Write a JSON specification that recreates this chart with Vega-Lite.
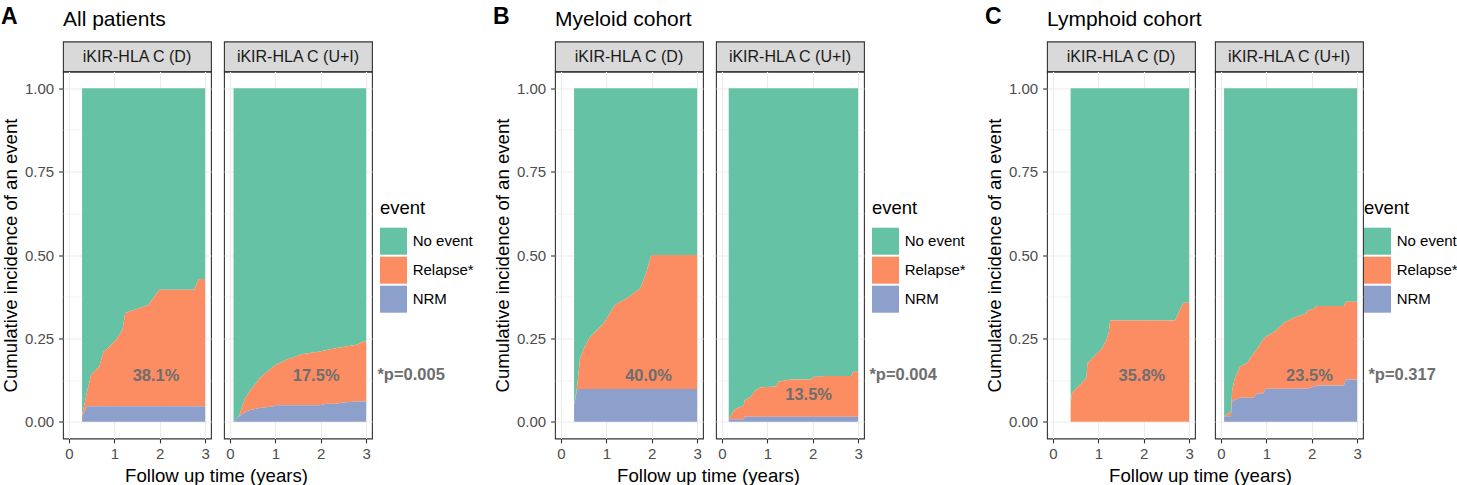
{
  "$schema": "https://vega.github.io/schema/vega-lite/v6.json",
  "padding": {"left": 0, "top": 4.5, "right": 0, "bottom": 0},
  "background": "white",
  "spacing": 18,
  "resolve": {"scale": {"color": "independent"}, "legend": {"color": "independent"}},
  "config": {
    "font": "Liberation Sans",
    "axis": {"domain": false, "labelFontSize": 15, "labelColor": "#4D4D4D", "tickColor": "#333333", "tickSize": 4.4, "tickWidth": 1.1, "gridColor": "#EBEBEB", "titleFontSize": 18.6, "titleFontWeight": "normal", "titleColor": "#000000"},
    "axisX": {"labelPadding": 3.5, "titlePadding": 5},
    "axisY": {"labelPadding": 5, "titlePadding": 4},
    "legend": {"orient": "none", "legendX": 317, "legendY": 157.7, "padding": 0, "titleFontSize": 18.5, "titleFontWeight": "normal", "titleColor": "#000000", "titlePadding": 10, "labelFontSize": 15, "labelColor": "#000000", "labelOffset": 5.7, "symbolType": "square", "symbolSize": 729, "symbolStrokeWidth": 0, "symbolOpacity": 1, "rowPadding": 2},
    "title": {"color": "#000000"}
  },
  "datasets": {
    "bands": [
      {"p":"A","g":"D","t":0.29,"e":"No event","lo":0.02,"hi":1},{"p":"A","g":"D","t":0.29,"e":"Relapse*","lo":0.016,"hi":0.02},{"p":"A","g":"D","t":0.29,"e":"NRM","lo":0,"hi":0.016},
      {"p":"A","g":"D","t":0.40,"e":"No event","lo":0.09,"hi":1},{"p":"A","g":"D","t":0.40,"e":"Relapse*","lo":0.047,"hi":0.09},{"p":"A","g":"D","t":0.40,"e":"NRM","lo":0,"hi":0.047},
      {"p":"A","g":"D","t":0.49,"e":"No event","lo":0.141,"hi":1},{"p":"A","g":"D","t":0.49,"e":"Relapse*","lo":0.047,"hi":0.141},{"p":"A","g":"D","t":0.49,"e":"NRM","lo":0,"hi":0.047},
      {"p":"A","g":"D","t":0.56,"e":"No event","lo":0.151,"hi":1},{"p":"A","g":"D","t":0.56,"e":"Relapse*","lo":0.047,"hi":0.151},{"p":"A","g":"D","t":0.56,"e":"NRM","lo":0,"hi":0.047},
      {"p":"A","g":"D","t":0.67,"e":"No event","lo":0.166,"hi":1},{"p":"A","g":"D","t":0.67,"e":"Relapse*","lo":0.047,"hi":0.166},{"p":"A","g":"D","t":0.67,"e":"NRM","lo":0,"hi":0.047},
      {"p":"A","g":"D","t":0.76,"e":"No event","lo":0.21,"hi":1},{"p":"A","g":"D","t":0.76,"e":"Relapse*","lo":0.047,"hi":0.21},{"p":"A","g":"D","t":0.76,"e":"NRM","lo":0,"hi":0.047},
      {"p":"A","g":"D","t":0.85,"e":"No event","lo":0.22,"hi":1},{"p":"A","g":"D","t":0.85,"e":"Relapse*","lo":0.047,"hi":0.22},{"p":"A","g":"D","t":0.85,"e":"NRM","lo":0,"hi":0.047},
      {"p":"A","g":"D","t":1.04,"e":"No event","lo":0.246,"hi":1},{"p":"A","g":"D","t":1.04,"e":"Relapse*","lo":0.047,"hi":0.246},{"p":"A","g":"D","t":1.04,"e":"NRM","lo":0,"hi":0.047},
      {"p":"A","g":"D","t":1.18,"e":"No event","lo":0.276,"hi":1},{"p":"A","g":"D","t":1.18,"e":"Relapse*","lo":0.047,"hi":0.276},{"p":"A","g":"D","t":1.18,"e":"NRM","lo":0,"hi":0.047},
      {"p":"A","g":"D","t":1.24,"e":"No event","lo":0.326,"hi":1},{"p":"A","g":"D","t":1.24,"e":"Relapse*","lo":0.047,"hi":0.326},{"p":"A","g":"D","t":1.24,"e":"NRM","lo":0,"hi":0.047},
      {"p":"A","g":"D","t":1.44,"e":"No event","lo":0.336,"hi":1},{"p":"A","g":"D","t":1.44,"e":"Relapse*","lo":0.047,"hi":0.336},{"p":"A","g":"D","t":1.44,"e":"NRM","lo":0,"hi":0.047},
      {"p":"A","g":"D","t":1.75,"e":"No event","lo":0.35,"hi":1},{"p":"A","g":"D","t":1.75,"e":"Relapse*","lo":0.047,"hi":0.35},{"p":"A","g":"D","t":1.75,"e":"NRM","lo":0,"hi":0.047},
      {"p":"A","g":"D","t":1.99,"e":"No event","lo":0.396,"hi":1},{"p":"A","g":"D","t":1.99,"e":"Relapse*","lo":0.047,"hi":0.396},{"p":"A","g":"D","t":1.99,"e":"NRM","lo":0,"hi":0.047},
      {"p":"A","g":"D","t":2.76,"e":"No event","lo":0.396,"hi":1},{"p":"A","g":"D","t":2.76,"e":"Relapse*","lo":0.047,"hi":0.396},{"p":"A","g":"D","t":2.76,"e":"NRM","lo":0,"hi":0.047},
      {"p":"A","g":"D","t":2.86,"e":"No event","lo":0.428,"hi":1},{"p":"A","g":"D","t":2.86,"e":"Relapse*","lo":0.047,"hi":0.428},{"p":"A","g":"D","t":2.86,"e":"NRM","lo":0,"hi":0.047},
      {"p":"A","g":"D","t":3.0,"e":"No event","lo":0.428,"hi":1},{"p":"A","g":"D","t":3.0,"e":"Relapse*","lo":0.047,"hi":0.428},{"p":"A","g":"D","t":3.0,"e":"NRM","lo":0,"hi":0.047},

      {"p":"A","g":"UI","t":0.08,"e":"No event","lo":0,"hi":1},{"p":"A","g":"UI","t":0.08,"e":"Relapse*","lo":0,"hi":0},{"p":"A","g":"UI","t":0.08,"e":"NRM","lo":0,"hi":0},
      {"p":"A","g":"UI","t":0.20,"e":"No event","lo":0.016,"hi":1},{"p":"A","g":"UI","t":0.20,"e":"Relapse*","lo":0.015,"hi":0.016},{"p":"A","g":"UI","t":0.20,"e":"NRM","lo":0,"hi":0.015},
      {"p":"A","g":"UI","t":0.32,"e":"No event","lo":0.066,"hi":1},{"p":"A","g":"UI","t":0.32,"e":"Relapse*","lo":0.028,"hi":0.066},{"p":"A","g":"UI","t":0.32,"e":"NRM","lo":0,"hi":0.028},
      {"p":"A","g":"UI","t":0.43,"e":"No event","lo":0.091,"hi":1},{"p":"A","g":"UI","t":0.43,"e":"Relapse*","lo":0.035,"hi":0.091},{"p":"A","g":"UI","t":0.43,"e":"NRM","lo":0,"hi":0.035},
      {"p":"A","g":"UI","t":0.69,"e":"No event","lo":0.136,"hi":1},{"p":"A","g":"UI","t":0.69,"e":"Relapse*","lo":0.042,"hi":0.136},{"p":"A","g":"UI","t":0.69,"e":"NRM","lo":0,"hi":0.042},
      {"p":"A","g":"UI","t":0.95,"e":"No event","lo":0.165,"hi":1},{"p":"A","g":"UI","t":0.95,"e":"Relapse*","lo":0.046,"hi":0.165},{"p":"A","g":"UI","t":0.95,"e":"NRM","lo":0,"hi":0.046},
      {"p":"A","g":"UI","t":1.0,"e":"No event","lo":0.17,"hi":1},{"p":"A","g":"UI","t":1.0,"e":"Relapse*","lo":0.05,"hi":0.17},{"p":"A","g":"UI","t":1.0,"e":"NRM","lo":0,"hi":0.05},
      {"p":"A","g":"UI","t":1.24,"e":"No event","lo":0.186,"hi":1},{"p":"A","g":"UI","t":1.24,"e":"Relapse*","lo":0.05,"hi":0.186},{"p":"A","g":"UI","t":1.24,"e":"NRM","lo":0,"hi":0.05},
      {"p":"A","g":"UI","t":1.61,"e":"No event","lo":0.203,"hi":1},{"p":"A","g":"UI","t":1.61,"e":"Relapse*","lo":0.05,"hi":0.203},{"p":"A","g":"UI","t":1.61,"e":"NRM","lo":0,"hi":0.05},
      {"p":"A","g":"UI","t":1.98,"e":"No event","lo":0.211,"hi":1},{"p":"A","g":"UI","t":1.98,"e":"Relapse*","lo":0.05,"hi":0.211},{"p":"A","g":"UI","t":1.98,"e":"NRM","lo":0,"hi":0.05},
      {"p":"A","g":"UI","t":2.13,"e":"No event","lo":0.215,"hi":1},{"p":"A","g":"UI","t":2.13,"e":"Relapse*","lo":0.054,"hi":0.215},{"p":"A","g":"UI","t":2.13,"e":"NRM","lo":0,"hi":0.054},
      {"p":"A","g":"UI","t":2.35,"e":"No event","lo":0.221,"hi":1},{"p":"A","g":"UI","t":2.35,"e":"Relapse*","lo":0.054,"hi":0.221},{"p":"A","g":"UI","t":2.35,"e":"NRM","lo":0,"hi":0.054},
      {"p":"A","g":"UI","t":2.49,"e":"No event","lo":0.224,"hi":1},{"p":"A","g":"UI","t":2.49,"e":"Relapse*","lo":0.058,"hi":0.224},{"p":"A","g":"UI","t":2.49,"e":"NRM","lo":0,"hi":0.058},
      {"p":"A","g":"UI","t":2.79,"e":"No event","lo":0.231,"hi":1},{"p":"A","g":"UI","t":2.79,"e":"Relapse*","lo":0.061,"hi":0.231},{"p":"A","g":"UI","t":2.79,"e":"NRM","lo":0,"hi":0.061},
      {"p":"A","g":"UI","t":2.93,"e":"No event","lo":0.24,"hi":1},{"p":"A","g":"UI","t":2.93,"e":"Relapse*","lo":0.061,"hi":0.24},{"p":"A","g":"UI","t":2.93,"e":"NRM","lo":0,"hi":0.061},
      {"p":"A","g":"UI","t":3.0,"e":"No event","lo":0.24,"hi":1},{"p":"A","g":"UI","t":3.0,"e":"Relapse*","lo":0.061,"hi":0.24},{"p":"A","g":"UI","t":3.0,"e":"NRM","lo":0,"hi":0.061},

      {"p":"B","g":"D","t":0.29,"e":"No event","lo":0.05,"hi":1},{"p":"B","g":"D","t":0.29,"e":"Relapse*","lo":0.05,"hi":0.05},{"p":"B","g":"D","t":0.29,"e":"NRM","lo":0,"hi":0.05},
      {"p":"B","g":"D","t":0.36,"e":"No event","lo":0.108,"hi":1},{"p":"B","g":"D","t":0.36,"e":"Relapse*","lo":0.098,"hi":0.108},{"p":"B","g":"D","t":0.36,"e":"NRM","lo":0,"hi":0.098},
      {"p":"B","g":"D","t":0.42,"e":"No event","lo":0.188,"hi":1},{"p":"B","g":"D","t":0.42,"e":"Relapse*","lo":0.098,"hi":0.188},{"p":"B","g":"D","t":0.42,"e":"NRM","lo":0,"hi":0.098},
      {"p":"B","g":"D","t":0.50,"e":"No event","lo":0.218,"hi":1},{"p":"B","g":"D","t":0.50,"e":"Relapse*","lo":0.098,"hi":0.218},{"p":"B","g":"D","t":0.50,"e":"NRM","lo":0,"hi":0.098},
      {"p":"B","g":"D","t":0.63,"e":"No event","lo":0.252,"hi":1},{"p":"B","g":"D","t":0.63,"e":"Relapse*","lo":0.098,"hi":0.252},{"p":"B","g":"D","t":0.63,"e":"NRM","lo":0,"hi":0.098},
      {"p":"B","g":"D","t":0.95,"e":"No event","lo":0.297,"hi":1},{"p":"B","g":"D","t":0.95,"e":"Relapse*","lo":0.098,"hi":0.297},{"p":"B","g":"D","t":0.95,"e":"NRM","lo":0,"hi":0.098},
      {"p":"B","g":"D","t":1.19,"e":"No event","lo":0.35,"hi":1},{"p":"B","g":"D","t":1.19,"e":"Relapse*","lo":0.098,"hi":0.35},{"p":"B","g":"D","t":1.19,"e":"NRM","lo":0,"hi":0.098},
      {"p":"B","g":"D","t":1.47,"e":"No event","lo":0.372,"hi":1},{"p":"B","g":"D","t":1.47,"e":"Relapse*","lo":0.098,"hi":0.372},{"p":"B","g":"D","t":1.47,"e":"NRM","lo":0,"hi":0.098},
      {"p":"B","g":"D","t":1.75,"e":"No event","lo":0.40,"hi":1},{"p":"B","g":"D","t":1.75,"e":"Relapse*","lo":0.098,"hi":0.40},{"p":"B","g":"D","t":1.75,"e":"NRM","lo":0,"hi":0.098},
      {"p":"B","g":"D","t":1.88,"e":"No event","lo":0.447,"hi":1},{"p":"B","g":"D","t":1.88,"e":"Relapse*","lo":0.098,"hi":0.447},{"p":"B","g":"D","t":1.88,"e":"NRM","lo":0,"hi":0.098},
      {"p":"B","g":"D","t":1.99,"e":"No event","lo":0.5,"hi":1},{"p":"B","g":"D","t":1.99,"e":"Relapse*","lo":0.098,"hi":0.5},{"p":"B","g":"D","t":1.99,"e":"NRM","lo":0,"hi":0.098},
      {"p":"B","g":"D","t":3.0,"e":"No event","lo":0.5,"hi":1},{"p":"B","g":"D","t":3.0,"e":"Relapse*","lo":0.098,"hi":0.5},{"p":"B","g":"D","t":3.0,"e":"NRM","lo":0,"hi":0.098},

      {"p":"B","g":"UI","t":0.15,"e":"No event","lo":0.008,"hi":1},{"p":"B","g":"UI","t":0.15,"e":"Relapse*","lo":0.008,"hi":0.008},{"p":"B","g":"UI","t":0.15,"e":"NRM","lo":0,"hi":0.008},
      {"p":"B","g":"UI","t":0.21,"e":"No event","lo":0.023,"hi":1},{"p":"B","g":"UI","t":0.21,"e":"Relapse*","lo":0.008,"hi":0.023},{"p":"B","g":"UI","t":0.21,"e":"NRM","lo":0,"hi":0.008},
      {"p":"B","g":"UI","t":0.29,"e":"No event","lo":0.038,"hi":1},{"p":"B","g":"UI","t":0.29,"e":"Relapse*","lo":0.008,"hi":0.038},{"p":"B","g":"UI","t":0.29,"e":"NRM","lo":0,"hi":0.008},
      {"p":"B","g":"UI","t":0.37,"e":"No event","lo":0.043,"hi":1},{"p":"B","g":"UI","t":0.37,"e":"Relapse*","lo":0.008,"hi":0.043},{"p":"B","g":"UI","t":0.37,"e":"NRM","lo":0,"hi":0.008},
      {"p":"B","g":"UI","t":0.48,"e":"No event","lo":0.048,"hi":1},{"p":"B","g":"UI","t":0.48,"e":"Relapse*","lo":0.008,"hi":0.048},{"p":"B","g":"UI","t":0.48,"e":"NRM","lo":0,"hi":0.008},
      {"p":"B","g":"UI","t":0.50,"e":"No event","lo":0.065,"hi":1},{"p":"B","g":"UI","t":0.50,"e":"Relapse*","lo":0.015,"hi":0.065},{"p":"B","g":"UI","t":0.50,"e":"NRM","lo":0,"hi":0.015},
      {"p":"B","g":"UI","t":0.62,"e":"No event","lo":0.073,"hi":1},{"p":"B","g":"UI","t":0.62,"e":"Relapse*","lo":0.015,"hi":0.073},{"p":"B","g":"UI","t":0.62,"e":"NRM","lo":0,"hi":0.015},
      {"p":"B","g":"UI","t":0.73,"e":"No event","lo":0.093,"hi":1},{"p":"B","g":"UI","t":0.73,"e":"Relapse*","lo":0.015,"hi":0.093},{"p":"B","g":"UI","t":0.73,"e":"NRM","lo":0,"hi":0.015},
      {"p":"B","g":"UI","t":0.84,"e":"No event","lo":0.103,"hi":1},{"p":"B","g":"UI","t":0.84,"e":"Relapse*","lo":0.015,"hi":0.103},{"p":"B","g":"UI","t":0.84,"e":"NRM","lo":0,"hi":0.015},
      {"p":"B","g":"UI","t":1.20,"e":"No event","lo":0.106,"hi":1},{"p":"B","g":"UI","t":1.20,"e":"Relapse*","lo":0.015,"hi":0.106},{"p":"B","g":"UI","t":1.20,"e":"NRM","lo":0,"hi":0.015},
      {"p":"B","g":"UI","t":1.24,"e":"No event","lo":0.12,"hi":1},{"p":"B","g":"UI","t":1.24,"e":"Relapse*","lo":0.015,"hi":0.12},{"p":"B","g":"UI","t":1.24,"e":"NRM","lo":0,"hi":0.015},
      {"p":"B","g":"UI","t":1.50,"e":"No event","lo":0.127,"hi":1},{"p":"B","g":"UI","t":1.50,"e":"Relapse*","lo":0.015,"hi":0.127},{"p":"B","g":"UI","t":1.50,"e":"NRM","lo":0,"hi":0.015},
      {"p":"B","g":"UI","t":1.97,"e":"No event","lo":0.127,"hi":1},{"p":"B","g":"UI","t":1.97,"e":"Relapse*","lo":0.015,"hi":0.127},{"p":"B","g":"UI","t":1.97,"e":"NRM","lo":0,"hi":0.015},
      {"p":"B","g":"UI","t":2.01,"e":"No event","lo":0.135,"hi":1},{"p":"B","g":"UI","t":2.01,"e":"Relapse*","lo":0.015,"hi":0.135},{"p":"B","g":"UI","t":2.01,"e":"NRM","lo":0,"hi":0.015},
      {"p":"B","g":"UI","t":2.19,"e":"No event","lo":0.135,"hi":1},{"p":"B","g":"UI","t":2.19,"e":"Relapse*","lo":0.015,"hi":0.135},{"p":"B","g":"UI","t":2.19,"e":"NRM","lo":0,"hi":0.015},
      {"p":"B","g":"UI","t":2.23,"e":"No event","lo":0.137,"hi":1},{"p":"B","g":"UI","t":2.23,"e":"Relapse*","lo":0.015,"hi":0.137},{"p":"B","g":"UI","t":2.23,"e":"NRM","lo":0,"hi":0.015},
      {"p":"B","g":"UI","t":2.85,"e":"No event","lo":0.137,"hi":1},{"p":"B","g":"UI","t":2.85,"e":"Relapse*","lo":0.015,"hi":0.137},{"p":"B","g":"UI","t":2.85,"e":"NRM","lo":0,"hi":0.015},
      {"p":"B","g":"UI","t":2.89,"e":"No event","lo":0.15,"hi":1},{"p":"B","g":"UI","t":2.89,"e":"Relapse*","lo":0.015,"hi":0.15},{"p":"B","g":"UI","t":2.89,"e":"NRM","lo":0,"hi":0.015},
      {"p":"B","g":"UI","t":3.0,"e":"No event","lo":0.15,"hi":1},{"p":"B","g":"UI","t":3.0,"e":"Relapse*","lo":0.015,"hi":0.15},{"p":"B","g":"UI","t":3.0,"e":"NRM","lo":0,"hi":0.015},

      {"p":"C","g":"D","t":0.39,"e":"No event","lo":0.052,"hi":1},{"p":"C","g":"D","t":0.39,"e":"Relapse*","lo":0,"hi":0.052},{"p":"C","g":"D","t":0.39,"e":"NRM","lo":0,"hi":0},
      {"p":"C","g":"D","t":0.42,"e":"No event","lo":0.087,"hi":1},{"p":"C","g":"D","t":0.42,"e":"Relapse*","lo":0,"hi":0.087},{"p":"C","g":"D","t":0.42,"e":"NRM","lo":0,"hi":0},
      {"p":"C","g":"D","t":0.57,"e":"No event","lo":0.107,"hi":1},{"p":"C","g":"D","t":0.57,"e":"Relapse*","lo":0,"hi":0.107},{"p":"C","g":"D","t":0.57,"e":"NRM","lo":0,"hi":0},
      {"p":"C","g":"D","t":0.74,"e":"No event","lo":0.132,"hi":1},{"p":"C","g":"D","t":0.74,"e":"Relapse*","lo":0,"hi":0.132},{"p":"C","g":"D","t":0.74,"e":"NRM","lo":0,"hi":0},
      {"p":"C","g":"D","t":0.76,"e":"No event","lo":0.175,"hi":1},{"p":"C","g":"D","t":0.76,"e":"Relapse*","lo":0,"hi":0.175},{"p":"C","g":"D","t":0.76,"e":"NRM","lo":0,"hi":0},
      {"p":"C","g":"D","t":0.91,"e":"No event","lo":0.197,"hi":1},{"p":"C","g":"D","t":0.91,"e":"Relapse*","lo":0,"hi":0.197},{"p":"C","g":"D","t":0.91,"e":"NRM","lo":0,"hi":0},
      {"p":"C","g":"D","t":1.06,"e":"No event","lo":0.217,"hi":1},{"p":"C","g":"D","t":1.06,"e":"Relapse*","lo":0,"hi":0.217},{"p":"C","g":"D","t":1.06,"e":"NRM","lo":0,"hi":0},
      {"p":"C","g":"D","t":1.17,"e":"No event","lo":0.242,"hi":1},{"p":"C","g":"D","t":1.17,"e":"Relapse*","lo":0,"hi":0.242},{"p":"C","g":"D","t":1.17,"e":"NRM","lo":0,"hi":0},
      {"p":"C","g":"D","t":1.23,"e":"No event","lo":0.267,"hi":1},{"p":"C","g":"D","t":1.23,"e":"Relapse*","lo":0,"hi":0.267},{"p":"C","g":"D","t":1.23,"e":"NRM","lo":0,"hi":0},
      {"p":"C","g":"D","t":1.26,"e":"No event","lo":0.304,"hi":1},{"p":"C","g":"D","t":1.26,"e":"Relapse*","lo":0,"hi":0.304},{"p":"C","g":"D","t":1.26,"e":"NRM","lo":0,"hi":0},
      {"p":"C","g":"D","t":2.69,"e":"No event","lo":0.304,"hi":1},{"p":"C","g":"D","t":2.69,"e":"Relapse*","lo":0,"hi":0.304},{"p":"C","g":"D","t":2.69,"e":"NRM","lo":0,"hi":0},
      {"p":"C","g":"D","t":2.87,"e":"No event","lo":0.357,"hi":1},{"p":"C","g":"D","t":2.87,"e":"Relapse*","lo":0,"hi":0.357},{"p":"C","g":"D","t":2.87,"e":"NRM","lo":0,"hi":0},
      {"p":"C","g":"D","t":3.0,"e":"No event","lo":0.357,"hi":1},{"p":"C","g":"D","t":3.0,"e":"Relapse*","lo":0,"hi":0.357},{"p":"C","g":"D","t":3.0,"e":"NRM","lo":0,"hi":0},

      {"p":"C","g":"UI","t":0.07,"e":"No event","lo":0.017,"hi":1},{"p":"C","g":"UI","t":0.07,"e":"Relapse*","lo":0.017,"hi":0.017},{"p":"C","g":"UI","t":0.07,"e":"NRM","lo":0,"hi":0.017},
      {"p":"C","g":"UI","t":0.18,"e":"No event","lo":0.027,"hi":1},{"p":"C","g":"UI","t":0.18,"e":"Relapse*","lo":0.017,"hi":0.027},{"p":"C","g":"UI","t":0.18,"e":"NRM","lo":0,"hi":0.017},
      {"p":"C","g":"UI","t":0.22,"e":"No event","lo":0.03,"hi":1},{"p":"C","g":"UI","t":0.22,"e":"Relapse*","lo":0.017,"hi":0.03},{"p":"C","g":"UI","t":0.22,"e":"NRM","lo":0,"hi":0.017},
      {"p":"C","g":"UI","t":0.25,"e":"No event","lo":0.097,"hi":1},{"p":"C","g":"UI","t":0.25,"e":"Relapse*","lo":0.062,"hi":0.097},{"p":"C","g":"UI","t":0.25,"e":"NRM","lo":0,"hi":0.062},
      {"p":"C","g":"UI","t":0.30,"e":"No event","lo":0.127,"hi":1},{"p":"C","g":"UI","t":0.30,"e":"Relapse*","lo":0.065,"hi":0.127},{"p":"C","g":"UI","t":0.30,"e":"NRM","lo":0,"hi":0.065},
      {"p":"C","g":"UI","t":0.42,"e":"No event","lo":0.165,"hi":1},{"p":"C","g":"UI","t":0.42,"e":"Relapse*","lo":0.072,"hi":0.165},{"p":"C","g":"UI","t":0.42,"e":"NRM","lo":0,"hi":0.072},
      {"p":"C","g":"UI","t":0.58,"e":"No event","lo":0.177,"hi":1},{"p":"C","g":"UI","t":0.58,"e":"Relapse*","lo":0.072,"hi":0.177},{"p":"C","g":"UI","t":0.58,"e":"NRM","lo":0,"hi":0.072},
      {"p":"C","g":"UI","t":0.73,"e":"No event","lo":0.207,"hi":1},{"p":"C","g":"UI","t":0.73,"e":"Relapse*","lo":0.072,"hi":0.207},{"p":"C","g":"UI","t":0.73,"e":"NRM","lo":0,"hi":0.072},
      {"p":"C","g":"UI","t":0.79,"e":"No event","lo":0.216,"hi":1},{"p":"C","g":"UI","t":0.79,"e":"Relapse*","lo":0.085,"hi":0.216},{"p":"C","g":"UI","t":0.79,"e":"NRM","lo":0,"hi":0.085},
      {"p":"C","g":"UI","t":0.93,"e":"No event","lo":0.247,"hi":1},{"p":"C","g":"UI","t":0.93,"e":"Relapse*","lo":0.085,"hi":0.247},{"p":"C","g":"UI","t":0.93,"e":"NRM","lo":0,"hi":0.085},
      {"p":"C","g":"UI","t":0.99,"e":"No event","lo":0.255,"hi":1},{"p":"C","g":"UI","t":0.99,"e":"Relapse*","lo":0.099,"hi":0.255},{"p":"C","g":"UI","t":0.99,"e":"NRM","lo":0,"hi":0.099},
      {"p":"C","g":"UI","t":1.20,"e":"No event","lo":0.272,"hi":1},{"p":"C","g":"UI","t":1.20,"e":"Relapse*","lo":0.099,"hi":0.272},{"p":"C","g":"UI","t":1.20,"e":"NRM","lo":0,"hi":0.099},
      {"p":"C","g":"UI","t":1.39,"e":"No event","lo":0.297,"hi":1},{"p":"C","g":"UI","t":1.39,"e":"Relapse*","lo":0.099,"hi":0.297},{"p":"C","g":"UI","t":1.39,"e":"NRM","lo":0,"hi":0.099},
      {"p":"C","g":"UI","t":1.61,"e":"No event","lo":0.312,"hi":1},{"p":"C","g":"UI","t":1.61,"e":"Relapse*","lo":0.099,"hi":0.312},{"p":"C","g":"UI","t":1.61,"e":"NRM","lo":0,"hi":0.099},
      {"p":"C","g":"UI","t":1.87,"e":"No event","lo":0.325,"hi":1},{"p":"C","g":"UI","t":1.87,"e":"Relapse*","lo":0.099,"hi":0.325},{"p":"C","g":"UI","t":1.87,"e":"NRM","lo":0,"hi":0.099},
      {"p":"C","g":"UI","t":1.90,"e":"No event","lo":0.332,"hi":1},{"p":"C","g":"UI","t":1.90,"e":"Relapse*","lo":0.099,"hi":0.332},{"p":"C","g":"UI","t":1.90,"e":"NRM","lo":0,"hi":0.099},
      {"p":"C","g":"UI","t":2.05,"e":"No event","lo":0.34,"hi":1},{"p":"C","g":"UI","t":2.05,"e":"Relapse*","lo":0.105,"hi":0.34},{"p":"C","g":"UI","t":2.05,"e":"NRM","lo":0,"hi":0.105},
      {"p":"C","g":"UI","t":2.12,"e":"No event","lo":0.347,"hi":1},{"p":"C","g":"UI","t":2.12,"e":"Relapse*","lo":0.109,"hi":0.347},{"p":"C","g":"UI","t":2.12,"e":"NRM","lo":0,"hi":0.109},
      {"p":"C","g":"UI","t":2.71,"e":"No event","lo":0.347,"hi":1},{"p":"C","g":"UI","t":2.71,"e":"Relapse*","lo":0.109,"hi":0.347},{"p":"C","g":"UI","t":2.71,"e":"NRM","lo":0,"hi":0.109},
      {"p":"C","g":"UI","t":2.75,"e":"No event","lo":0.36,"hi":1},{"p":"C","g":"UI","t":2.75,"e":"Relapse*","lo":0.127,"hi":0.36},{"p":"C","g":"UI","t":2.75,"e":"NRM","lo":0,"hi":0.127},
      {"p":"C","g":"UI","t":3.0,"e":"No event","lo":0.36,"hi":1},{"p":"C","g":"UI","t":3.0,"e":"Relapse*","lo":0.127,"hi":0.36},{"p":"C","g":"UI","t":3.0,"e":"NRM","lo":0,"hi":0.127}
    ],
    "labels": [
      {"p": "A", "g": "D", "t": 1.92, "hi": 0.138, "label": "38.1%"},
      {"p": "A", "g": "UI", "t": 1.90, "hi": 0.138, "label": "17.5%"},
      {"p": "B", "g": "D", "t": 1.93, "hi": 0.138, "label": "40.0%"},
      {"p": "B", "g": "UI", "t": 1.91, "hi": 0.08, "label": "13.5%"},
      {"p": "C", "g": "D", "t": 1.96, "hi": 0.138, "label": "35.8%"},
      {"p": "C", "g": "UI", "t": 1.95, "hi": 0.138, "label": "23.5%"}
    ],
    "pvals": [
      {"p": "A", "t": 3.25, "hi": 0.139, "label": "*p=0.005"},
      {"p": "B", "t": 3.25, "hi": 0.139, "label": "*p=0.004"},
      {"p": "C", "t": 3.25, "hi": 0.139, "label": "*p=0.317"}
    ]
  },
  "hconcat": [
    {
      "spacing": 11,
      "title": {"text": "Follow up time (years)", "orient": "bottom", "anchor": "start", "frame": "group", "dx": 153.5, "align": "center", "offset": 5, "baseline": "top", "fontSize": 18.6, "fontWeight": "normal"},
      "hconcat": [
        {
          "bounds": "flush", "spacing": 0,
          "vconcat": [
            {
              "width": 148, "height": 30,
              "view": {"fill": "#D9D9D9", "stroke": "#333333", "strokeWidth": 1.1},
              "title": {"text": "All patients", "anchor": "start", "frame": "group", "offset": -5, "baseline": "alphabetic", "fontSize": 21, "fontWeight": "normal"},
              "data": {"values": [{"label": "iKIR-HLA C (D)"}]},
              "mark": {"type": "text", "fontSize": 16, "color": "#1A1A1A"},
              "encoding": {"text": {"field": "label", "type": "nominal"}}
            },
            {
              "width": 148, "height": 367,
              "view": {"stroke": "#333333", "strokeWidth": 1.1},
              "title": {"text": "A", "anchor": "start", "frame": "group", "dx": -62, "offset": 25, "baseline": "alphabetic", "fontSize": 23, "fontWeight": "bold"},
              "encoding": {
                "x": {"field": "t", "type": "quantitative", "scale": {"domain": [-0.13, 3.13], "nice": false, "zero": false},
                  "axis": {"values": [0, 0.5, 1, 1.5, 2, 2.5, 3], "format": "d", "labelExpr": "datum.value % 1 === 0 ? datum.label : ''", "gridWidth": {"condition": {"test": "datum.value % 1 !== 0", "value": 0.6}, "value": 1.1}, "tickOpacity": {"condition": {"test": "datum.value % 1 !== 0", "value": 0}, "value": 1}, "title": null}},
                "y": {"field": "hi", "type": "quantitative", "scale": {"domain": [-0.05, 1.05], "nice": false, "zero": false},
                  "axis": {"values": [0, 0.125, 0.25, 0.375, 0.5, 0.625, 0.75, 0.875, 1], "format": ".2f", "labelExpr": "(datum.value * 4) % 1 === 0 ? datum.label : ''", "gridWidth": {"condition": {"test": "(datum.value * 4) % 1 !== 0", "value": 0.6}, "value": 1.1}, "tickOpacity": {"condition": {"test": "(datum.value * 4) % 1 !== 0", "value": 0}, "value": 1}, "title": "Cumulative incidence of an event"}}
              },
              "layer": [
                {"data": {"name": "bands"}, "transform": [{"filter": "datum.p === 'A' && datum.g === 'D'"}],
                 "mark": {"type": "area", "orient": "vertical", "opacity": 1},
                 "encoding": {"y2": {"field": "lo"}, "color": {"field": "e", "type": "nominal", "title": "event", "scale": {"domain": ["No event", "Relapse*", "NRM"], "range": ["#66C2A5", "#FC8D62", "#8DA0CB"]}}}},
                {"data": {"name": "labels"}, "transform": [{"filter": "datum.p === 'A' && datum.g === 'D'"}],
                 "mark": {"type": "text", "fontWeight": "bold", "fontSize": 16.5, "color": "#6E6E6E", "align": "center", "baseline": "middle"},
                 "encoding": {"text": {"field": "label", "type": "nominal"}}}
              ]
            }
          ]
        },
        {
          "bounds": "flush", "spacing": 0,
          "vconcat": [
            {
              "width": 148, "height": 30,
              "view": {"fill": "#D9D9D9", "stroke": "#333333", "strokeWidth": 1.1},
              "data": {"values": [{"label": "iKIR-HLA C (U+I)"}]},
              "mark": {"type": "text", "fontSize": 16, "color": "#1A1A1A"},
              "encoding": {"text": {"field": "label", "type": "nominal"}}
            },
            {
              "width": 148, "height": 367,
              "view": {"stroke": "#333333", "strokeWidth": 1.1},
              "encoding": {
                "x": {"field": "t", "type": "quantitative", "scale": {"domain": [-0.13, 3.13], "nice": false, "zero": false},
                  "axis": {"values": [0, 0.5, 1, 1.5, 2, 2.5, 3], "format": "d", "labelExpr": "datum.value % 1 === 0 ? datum.label : ''", "gridWidth": {"condition": {"test": "datum.value % 1 !== 0", "value": 0.6}, "value": 1.1}, "tickOpacity": {"condition": {"test": "datum.value % 1 !== 0", "value": 0}, "value": 1}, "title": null}},
                "y": {"field": "hi", "type": "quantitative", "scale": {"domain": [-0.05, 1.05], "nice": false, "zero": false},
                  "axis": {"values": [0, 0.125, 0.25, 0.375, 0.5, 0.625, 0.75, 0.875, 1], "labels": false, "ticks": false, "gridWidth": {"condition": {"test": "(datum.value * 4) % 1 !== 0", "value": 0.6}, "value": 1.1}, "title": null}}
              },
              "layer": [
                {"data": {"name": "bands"}, "transform": [{"filter": "datum.p === 'A' && datum.g === 'UI'"}],
                 "mark": {"type": "area", "orient": "vertical", "opacity": 1},
                 "encoding": {"y2": {"field": "lo"}, "color": {"field": "e", "type": "nominal", "title": "event", "scale": {"domain": ["No event", "Relapse*", "NRM"], "range": ["#66C2A5", "#FC8D62", "#8DA0CB"]}}}},
                {"data": {"name": "labels"}, "transform": [{"filter": "datum.p === 'A' && datum.g === 'UI'"}],
                 "mark": {"type": "text", "fontWeight": "bold", "fontSize": 16.5, "color": "#6E6E6E", "align": "center", "baseline": "middle"},
                 "encoding": {"text": {"field": "label", "type": "nominal"}}},
                {"data": {"name": "pvals"}, "transform": [{"filter": "datum.p === 'A'"}],
                 "mark": {"type": "text", "fontWeight": "bold", "fontSize": 16.5, "color": "#6E6E6E", "align": "left", "baseline": "middle"},
                 "encoding": {"text": {"field": "label", "type": "nominal"}}}
              ]
            }
          ]
        }
      ]
    },
    {
      "spacing": 11,
      "title": {"text": "Follow up time (years)", "orient": "bottom", "anchor": "start", "frame": "group", "dx": 153.5, "align": "center", "offset": 5, "baseline": "top", "fontSize": 18.6, "fontWeight": "normal"},
      "hconcat": [
        {
          "bounds": "flush", "spacing": 0,
          "vconcat": [
            {
              "width": 148, "height": 30,
              "view": {"fill": "#D9D9D9", "stroke": "#333333", "strokeWidth": 1.1},
              "title": {"text": "Myeloid cohort", "anchor": "start", "frame": "group", "offset": -5, "baseline": "alphabetic", "fontSize": 21, "fontWeight": "normal"},
              "data": {"values": [{"label": "iKIR-HLA C (D)"}]},
              "mark": {"type": "text", "fontSize": 16, "color": "#1A1A1A"},
              "encoding": {"text": {"field": "label", "type": "nominal"}}
            },
            {
              "width": 148, "height": 367,
              "view": {"stroke": "#333333", "strokeWidth": 1.1},
              "title": {"text": "B", "anchor": "start", "frame": "group", "dx": -62, "offset": 25, "baseline": "alphabetic", "fontSize": 23, "fontWeight": "bold"},
              "encoding": {
                "x": {"field": "t", "type": "quantitative", "scale": {"domain": [-0.13, 3.13], "nice": false, "zero": false},
                  "axis": {"values": [0, 0.5, 1, 1.5, 2, 2.5, 3], "format": "d", "labelExpr": "datum.value % 1 === 0 ? datum.label : ''", "gridWidth": {"condition": {"test": "datum.value % 1 !== 0", "value": 0.6}, "value": 1.1}, "tickOpacity": {"condition": {"test": "datum.value % 1 !== 0", "value": 0}, "value": 1}, "title": null}},
                "y": {"field": "hi", "type": "quantitative", "scale": {"domain": [-0.05, 1.05], "nice": false, "zero": false},
                  "axis": {"values": [0, 0.125, 0.25, 0.375, 0.5, 0.625, 0.75, 0.875, 1], "format": ".2f", "labelExpr": "(datum.value * 4) % 1 === 0 ? datum.label : ''", "gridWidth": {"condition": {"test": "(datum.value * 4) % 1 !== 0", "value": 0.6}, "value": 1.1}, "tickOpacity": {"condition": {"test": "(datum.value * 4) % 1 !== 0", "value": 0}, "value": 1}, "title": "Cumulative incidence of an event"}}
              },
              "layer": [
                {"data": {"name": "bands"}, "transform": [{"filter": "datum.p === 'B' && datum.g === 'D'"}],
                 "mark": {"type": "area", "orient": "vertical", "opacity": 1},
                 "encoding": {"y2": {"field": "lo"}, "color": {"field": "e", "type": "nominal", "title": "event", "scale": {"domain": ["No event", "Relapse*", "NRM"], "range": ["#66C2A5", "#FC8D62", "#8DA0CB"]}}}},
                {"data": {"name": "labels"}, "transform": [{"filter": "datum.p === 'B' && datum.g === 'D'"}],
                 "mark": {"type": "text", "fontWeight": "bold", "fontSize": 16.5, "color": "#6E6E6E", "align": "center", "baseline": "middle"},
                 "encoding": {"text": {"field": "label", "type": "nominal"}}}
              ]
            }
          ]
        },
        {
          "bounds": "flush", "spacing": 0,
          "vconcat": [
            {
              "width": 148, "height": 30,
              "view": {"fill": "#D9D9D9", "stroke": "#333333", "strokeWidth": 1.1},
              "data": {"values": [{"label": "iKIR-HLA C (U+I)"}]},
              "mark": {"type": "text", "fontSize": 16, "color": "#1A1A1A"},
              "encoding": {"text": {"field": "label", "type": "nominal"}}
            },
            {
              "width": 148, "height": 367,
              "view": {"stroke": "#333333", "strokeWidth": 1.1},
              "encoding": {
                "x": {"field": "t", "type": "quantitative", "scale": {"domain": [-0.13, 3.13], "nice": false, "zero": false},
                  "axis": {"values": [0, 0.5, 1, 1.5, 2, 2.5, 3], "format": "d", "labelExpr": "datum.value % 1 === 0 ? datum.label : ''", "gridWidth": {"condition": {"test": "datum.value % 1 !== 0", "value": 0.6}, "value": 1.1}, "tickOpacity": {"condition": {"test": "datum.value % 1 !== 0", "value": 0}, "value": 1}, "title": null}},
                "y": {"field": "hi", "type": "quantitative", "scale": {"domain": [-0.05, 1.05], "nice": false, "zero": false},
                  "axis": {"values": [0, 0.125, 0.25, 0.375, 0.5, 0.625, 0.75, 0.875, 1], "labels": false, "ticks": false, "gridWidth": {"condition": {"test": "(datum.value * 4) % 1 !== 0", "value": 0.6}, "value": 1.1}, "title": null}}
              },
              "layer": [
                {"data": {"name": "bands"}, "transform": [{"filter": "datum.p === 'B' && datum.g === 'UI'"}],
                 "mark": {"type": "area", "orient": "vertical", "opacity": 1},
                 "encoding": {"y2": {"field": "lo"}, "color": {"field": "e", "type": "nominal", "title": "event", "scale": {"domain": ["No event", "Relapse*", "NRM"], "range": ["#66C2A5", "#FC8D62", "#8DA0CB"]}}}},
                {"data": {"name": "labels"}, "transform": [{"filter": "datum.p === 'B' && datum.g === 'UI'"}],
                 "mark": {"type": "text", "fontWeight": "bold", "fontSize": 16.5, "color": "#6E6E6E", "align": "center", "baseline": "middle"},
                 "encoding": {"text": {"field": "label", "type": "nominal"}}},
                {"data": {"name": "pvals"}, "transform": [{"filter": "datum.p === 'B'"}],
                 "mark": {"type": "text", "fontWeight": "bold", "fontSize": 16.5, "color": "#6E6E6E", "align": "left", "baseline": "middle"},
                 "encoding": {"text": {"field": "label", "type": "nominal"}}}
              ]
            }
          ]
        }
      ]
    },
    {
      "spacing": 11,
      "title": {"text": "Follow up time (years)", "orient": "bottom", "anchor": "start", "frame": "group", "dx": 153.5, "align": "center", "offset": 5, "baseline": "top", "fontSize": 18.6, "fontWeight": "normal"},
      "hconcat": [
        {
          "bounds": "flush", "spacing": 0,
          "vconcat": [
            {
              "width": 148, "height": 30,
              "view": {"fill": "#D9D9D9", "stroke": "#333333", "strokeWidth": 1.1},
              "title": {"text": "Lymphoid cohort", "anchor": "start", "frame": "group", "offset": -5, "baseline": "alphabetic", "fontSize": 21, "fontWeight": "normal"},
              "data": {"values": [{"label": "iKIR-HLA C (D)"}]},
              "mark": {"type": "text", "fontSize": 16, "color": "#1A1A1A"},
              "encoding": {"text": {"field": "label", "type": "nominal"}}
            },
            {
              "width": 148, "height": 367,
              "view": {"stroke": "#333333", "strokeWidth": 1.1},
              "title": {"text": "C", "anchor": "start", "frame": "group", "dx": -62, "offset": 25, "baseline": "alphabetic", "fontSize": 23, "fontWeight": "bold"},
              "encoding": {
                "x": {"field": "t", "type": "quantitative", "scale": {"domain": [-0.13, 3.13], "nice": false, "zero": false},
                  "axis": {"values": [0, 0.5, 1, 1.5, 2, 2.5, 3], "format": "d", "labelExpr": "datum.value % 1 === 0 ? datum.label : ''", "gridWidth": {"condition": {"test": "datum.value % 1 !== 0", "value": 0.6}, "value": 1.1}, "tickOpacity": {"condition": {"test": "datum.value % 1 !== 0", "value": 0}, "value": 1}, "title": null}},
                "y": {"field": "hi", "type": "quantitative", "scale": {"domain": [-0.05, 1.05], "nice": false, "zero": false},
                  "axis": {"values": [0, 0.125, 0.25, 0.375, 0.5, 0.625, 0.75, 0.875, 1], "format": ".2f", "labelExpr": "(datum.value * 4) % 1 === 0 ? datum.label : ''", "gridWidth": {"condition": {"test": "(datum.value * 4) % 1 !== 0", "value": 0.6}, "value": 1.1}, "tickOpacity": {"condition": {"test": "(datum.value * 4) % 1 !== 0", "value": 0}, "value": 1}, "title": "Cumulative incidence of an event"}}
              },
              "layer": [
                {"data": {"name": "bands"}, "transform": [{"filter": "datum.p === 'C' && datum.g === 'D'"}],
                 "mark": {"type": "area", "orient": "vertical", "opacity": 1},
                 "encoding": {"y2": {"field": "lo"}, "color": {"field": "e", "type": "nominal", "title": "event", "scale": {"domain": ["No event", "Relapse*", "NRM"], "range": ["#66C2A5", "#FC8D62", "#8DA0CB"]}}}},
                {"data": {"name": "labels"}, "transform": [{"filter": "datum.p === 'C' && datum.g === 'D'"}],
                 "mark": {"type": "text", "fontWeight": "bold", "fontSize": 16.5, "color": "#6E6E6E", "align": "center", "baseline": "middle"},
                 "encoding": {"text": {"field": "label", "type": "nominal"}}}
              ]
            }
          ]
        },
        {
          "bounds": "flush", "spacing": 0,
          "vconcat": [
            {
              "width": 148, "height": 30,
              "view": {"fill": "#D9D9D9", "stroke": "#333333", "strokeWidth": 1.1},
              "data": {"values": [{"label": "iKIR-HLA C (U+I)"}]},
              "mark": {"type": "text", "fontSize": 16, "color": "#1A1A1A"},
              "encoding": {"text": {"field": "label", "type": "nominal"}}
            },
            {
              "width": 148, "height": 367,
              "view": {"stroke": "#333333", "strokeWidth": 1.1},
              "encoding": {
                "x": {"field": "t", "type": "quantitative", "scale": {"domain": [-0.13, 3.13], "nice": false, "zero": false},
                  "axis": {"values": [0, 0.5, 1, 1.5, 2, 2.5, 3], "format": "d", "labelExpr": "datum.value % 1 === 0 ? datum.label : ''", "gridWidth": {"condition": {"test": "datum.value % 1 !== 0", "value": 0.6}, "value": 1.1}, "tickOpacity": {"condition": {"test": "datum.value % 1 !== 0", "value": 0}, "value": 1}, "title": null}},
                "y": {"field": "hi", "type": "quantitative", "scale": {"domain": [-0.05, 1.05], "nice": false, "zero": false},
                  "axis": {"values": [0, 0.125, 0.25, 0.375, 0.5, 0.625, 0.75, 0.875, 1], "labels": false, "ticks": false, "gridWidth": {"condition": {"test": "(datum.value * 4) % 1 !== 0", "value": 0.6}, "value": 1.1}, "title": null}}
              },
              "layer": [
                {"data": {"name": "bands"}, "transform": [{"filter": "datum.p === 'C' && datum.g === 'UI'"}],
                 "mark": {"type": "area", "orient": "vertical", "opacity": 1},
                 "encoding": {"y2": {"field": "lo"}, "color": {"field": "e", "type": "nominal", "title": "event", "scale": {"domain": ["No event", "Relapse*", "NRM"], "range": ["#66C2A5", "#FC8D62", "#8DA0CB"]}}}},
                {"data": {"name": "labels"}, "transform": [{"filter": "datum.p === 'C' && datum.g === 'UI'"}],
                 "mark": {"type": "text", "fontWeight": "bold", "fontSize": 16.5, "color": "#6E6E6E", "align": "center", "baseline": "middle"},
                 "encoding": {"text": {"field": "label", "type": "nominal"}}},
                {"data": {"name": "pvals"}, "transform": [{"filter": "datum.p === 'C'"}],
                 "mark": {"type": "text", "fontWeight": "bold", "fontSize": 16.5, "color": "#6E6E6E", "align": "left", "baseline": "middle"},
                 "encoding": {"text": {"field": "label", "type": "nominal"}}}
              ]
            }
          ]
        }
      ]
    }
  ]
}
